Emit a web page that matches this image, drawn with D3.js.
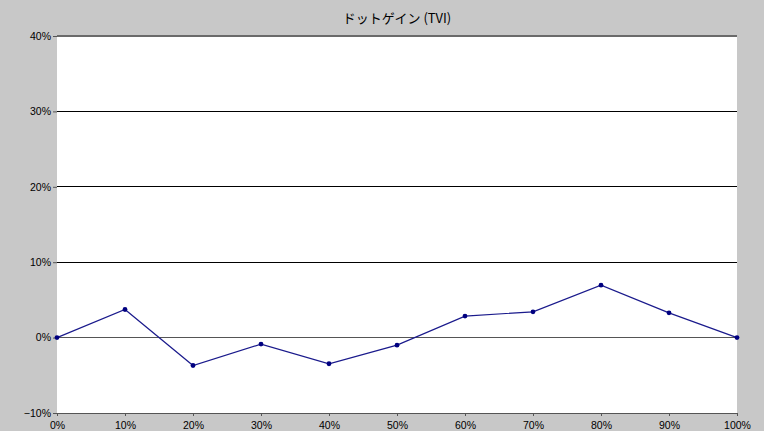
<!DOCTYPE html>
<html><head><meta charset="utf-8">
<script src="https://cdn.jsdelivr.net/npm/d3@7"></script>
<style>
body{margin:0;background:#c8c8c8;}
svg{display:block;}
.tick text{font-family:"Liberation Sans Narrow","Liberation Sans",Arial,sans-serif;font-size:10.5px;fill:#000;}
</style></head><body>
<svg id="c" width="764" height="431"></svg>
<script>
const title = "ドットゲイン (TVI)";
const xValues = [0,10,20,30,40,50,60,70,80,90,100];
const tvi = [0,3.73,-3.7,-0.86,-3.47,-1.0,2.85,3.42,6.95,3.28,0];
const yTicks = [-10,0,10,20,30,40];
const xTicks = [0,10,20,30,40,50,60,70,80,90,100];

const svg = d3.select("#c");
const m = {l:57, r:27, t:36, b:18};
const W = 764, H = 431;
const x = d3.scaleLinear().domain([0,100]).range([m.l, W-m.r]);
const y = d3.scaleLinear().domain([-10,40]).range([H-m.b, m.t]);

svg.append("rect").attr("width",W).attr("height",H).attr("fill","#c8c8c8");
svg.append("rect").attr("x",x(0)).attr("y",y(40)).attr("width",x(100)-x(0)).attr("height",y(-10)-y(40)).attr("fill","#fff");

// gridlines
svg.append("g").selectAll("line").data(yTicks.filter(d=>d>-10)).join("line")
  .attr("x1",x(0)).attr("x2",x(100)).attr("y1",d=>y(d)).attr("y2",d=>y(d))
  .attr("stroke",d=>d===40?"#6a6a6a":(d===0?"#555":"#000"))
  .attr("stroke-width",d=>d===40?2:1).attr("shape-rendering","crispEdges");

// axes
const ya = svg.append("g").attr("transform",`translate(${x(0)},0)`)
  .call(d3.axisLeft(y).tickValues(yTicks).tickSize(4).tickPadding(2).tickFormat(d=>(d<0?"\u2212"+(-d):d)+"%"));
ya.select(".domain").remove();
ya.selectAll(".tick line").attr("stroke","#555");

const xa = svg.append("g").attr("transform",`translate(0,${y(-10)})`)
  .call(d3.axisBottom(x).tickValues(xTicks).tickSize(3).tickPadding(6).tickFormat(d=>d+"%"));
xa.select(".domain").attr("stroke","#555").attr("d",`M${x(0)},0.5H${x(100)}`);
xa.selectAll(".tick line").attr("stroke","#555");

// line
const data = xValues.map((v,i)=>({x:v,y:tvi[i]}));
svg.append("path").datum(data)
  .attr("d",d3.line().x(d=>x(d.x)).y(d=>y(d.y)))
  .attr("fill","none").attr("stroke","#1a1a8c").attr("stroke-width",1.2);
svg.append("g").selectAll("circle").data(data).join("circle")
  .attr("cx",d=>x(d.x)).attr("cy",d=>y(d.y)).attr("r",2.4).attr("fill","#000080");

svg.append("text").attr("x",(x(0)+x(100))/2).attr("y",23).attr("text-anchor","middle")
  .attr("font-family","'Noto Sans CJK JP',sans-serif").attr("font-size",13).text(title);
</script></body></html>
